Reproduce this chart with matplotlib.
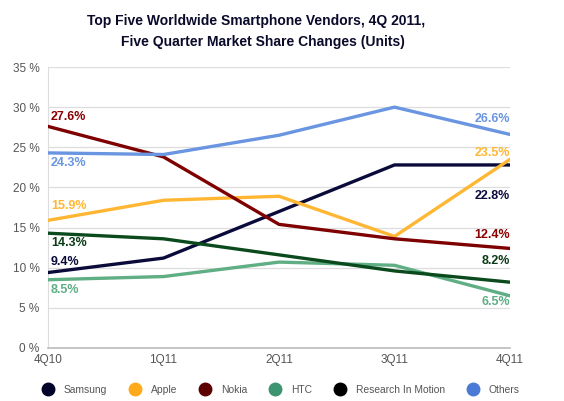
import matplotlib
matplotlib.use("Agg")
import matplotlib.pyplot as plt
from matplotlib.lines import Line2D

plt.rcParams["font.family"] = ["Liberation Sans", "DejaVu Sans"]

quarters = ["4Q10", "1Q11", "2Q11", "3Q11", "4Q11"]
samsung = [9.4, 11.2, 17.0, 22.8, 22.8]
apple = [15.9, 18.4, 18.9, 13.9, 23.5]
nokia = [27.6, 23.8, 15.4, 13.6, 12.4]
htc = [8.5, 8.9, 10.7, 10.3, 6.5]
rim = [14.3, 13.6, 11.6, 9.6, 8.2]
others = [24.3, 24.1, 26.5, 30.0, 26.6]
series_names = ["Samsung", "Apple", "Nokia", "HTC", "Research In Motion", "Others"]
series_values = [samsung, apple, nokia, htc, rim, others]
y_ticks = [0, 5, 10, 15, 20, 25, 30, 35]

line_colors = ["#0b0b3b", "#ffb733", "#7f0000", "#5fae84", "#0a4a1c", "#6a95e0"]
legend_colors = ["#03032a", "#ffaa1a", "#5c0000", "#3d9470", "#000000", "#4a7ad6"]
label_colors = ["#0b0b3b", "#ffb733", "#8a0000", "#5fae84", "#0a3a18", "#6a95e0"]
# pixel offsets (start, end) for value labels
start_off = [-10.5, -14.6, -9.7, 10, 9.8, 9.8]
end_off = [31, -6, -13, 6, -21, -15]

fig = plt.figure(figsize=(5.64, 4.01), dpi=100)
ax = fig.add_axes([48/564, 53/401, 462/564, 281/401])
x = list(range(len(quarters)))
for name, vals, c in zip(series_names, series_values, line_colors):
    ax.plot(x, vals, color=c, lw=2.4, solid_joinstyle="miter", zorder=3)

ax.set_xlim(0, len(quarters) - 1)
ax.set_ylim(0, 35)
ax.set_yticks(y_ticks)
ax.set_yticklabels([f"{t} %" for t in y_ticks])
ax.set_xticks(x)
ax.set_xticklabels(quarters)
ax.tick_params(length=0, labelsize=8.5, labelcolor="#555555", pad=6)
ax.tick_params(axis="x", pad=4)
ax.grid(axis="y", color="#dddddd", lw=0.9, zorder=0)
for s in ["top", "right"]:
    ax.spines[s].set_visible(False)
ax.spines["left"].set_color("#dddddd")
ax.spines["bottom"].set_color("#bbbbbb")
ax.spines["bottom"].set_linewidth(1.2)

pt = 0.72
for vals, c, so, eo in zip(series_values, label_colors, start_off, end_off):
    ax.annotate(f"{vals[0]}%", (0, vals[0]), xytext=(2, -so * pt), textcoords="offset points",
                ha="left", va="center", color=c, fontsize=9, fontweight="bold")
    ax.annotate(f"{vals[-1]}%", (len(quarters) - 1, vals[-1]), xytext=(0, -eo * pt), textcoords="offset points",
                ha="right", va="center", color=c, fontsize=9, fontweight="bold")

fig.text(256/564, 1 - 21/401, "Top Five Worldwide Smartphone Vendors, 4Q 2011,",
         ha="center", va="center", fontsize=10, fontweight="bold", color="#0a0a2a")
fig.text(263/564, 1 - 42/401, "Five Quarter Market Share Changes (Units)",
         ha="center", va="center", fontsize=10, fontweight="bold", color="#0a0a2a")

handles = [Line2D([], [], ls="none", marker="o", markersize=9, markerfacecolor=c, markeredgecolor=c)
           for c in legend_colors]
fig.legend(handles, series_names, loc="center", bbox_to_anchor=(280/564, 11/401), ncol=6,
           frameon=False, fontsize=7.4, labelcolor="#555555", handletextpad=0.8, columnspacing=1.95,
           handlelength=1.5)

fig.savefig("out.png", dpi=100)
